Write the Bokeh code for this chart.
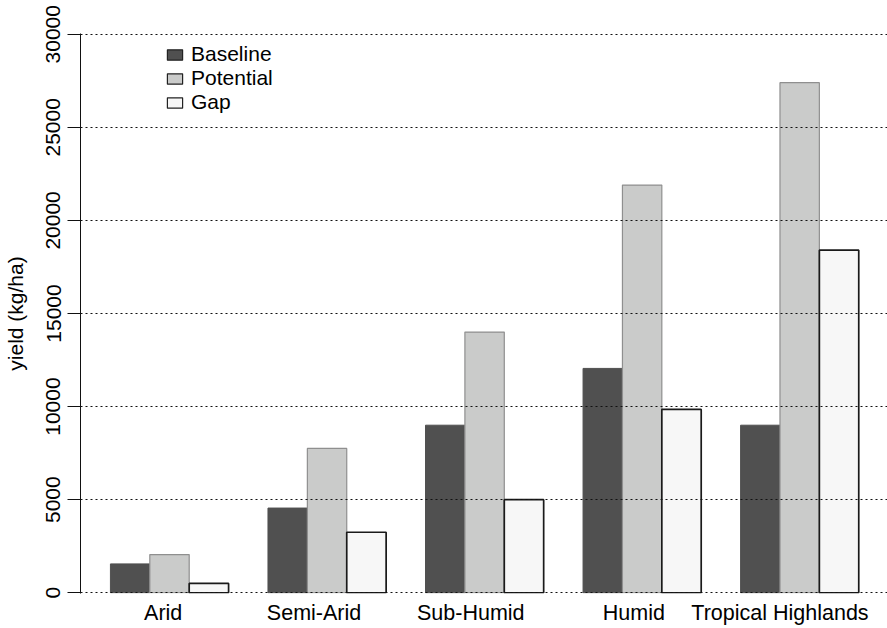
import numpy as np
from bokeh.plotting import figure
from bokeh.models import Range1d, FixedTicker, Legend, LegendItem
from bokeh.embed import file_html
from bokeh.resources import INLINE

# ---- data ----
regions = ["Arid", "Semi-Arid", "Sub-Humid", "Humid", "Tropical Highlands"]
baseline = [1550, 4550, 9000, 12050, 9000]
potential = [2050, 7750, 14000, 21900, 27400]
gap = [500, 3250, 5000, 9850, 18400]
series_names = ["Baseline", "Potential", "Gap"]
y_ticks = [0, 5000, 10000, 15000, 20000, 25000, 30000]
label_shift = [-0.16, -0.33, -0.35, -0.21, -0.50]   # label nudges (styling)

FONT = "Liberation Sans"
TXT = "#000000"

p = figure(width=887, height=627, output_backend="svg", toolbar_location=None,
           x_range=Range1d(0.24, 20.73), y_range=Range1d(-40, 30040),
           min_border_left=79, min_border_right=0, min_border_top=33,
           min_border_bottom=34)
p.outline_line_color = None
p.background_fill_color = "white"
p.border_fill_color = "white"

fills = ["#505050", "#cacbca", "#f7f7f7"]
lines = ["#505050", "#8f8f8f", "#1a1a1a"]
lwidths = [1, 1.2, 1.7]
values = [baseline, potential, gap]

n = len(regions)
for j in range(3):
    xs = [1 + 4 * i + j + 0.5 for i in range(n)]
    p.vbar(x=xs, top=values[j], bottom=0, width=1,
           fill_color=fills[j], line_color=lines[j], line_width=lwidths[j])

# legend proxies (boxes with dark borders), no visible data
proxies = []
for j in range(3):
    r = p.vbar(x=np.array([np.nan]), top=np.array([np.nan]), width=1,
               fill_color=fills[j], line_color="#222222", line_width=1.2)
    proxies.append(r)

legend = Legend(items=[LegendItem(label=series_names[j], renderers=[proxies[j]])
                       for j in range(3)],
                location=(85, 479), glyph_width=19, glyph_height=13,
                label_standoff=7, spacing=-5, padding=0, margin=0,
                border_line_color=None, background_fill_alpha=0,
                label_text_font=FONT, label_text_font_size="21px",
                label_text_color=TXT)
p.add_layout(legend)

# grid
p.xgrid.visible = False
p.ygrid.ticker = FixedTicker(ticks=y_ticks)
p.ygrid.grid_line_color = "#111111"
p.ygrid.grid_line_dash = "2 3"
p.ygrid.grid_line_width = 1
p.ygrid.level = "overlay"

# y axis
p.yaxis.ticker = FixedTicker(ticks=y_ticks)
p.yaxis.axis_label = "yield (kg/ha)"
p.yaxis.axis_label_text_font = FONT
p.yaxis.axis_label_text_font_size = "21px"
p.yaxis.axis_label_text_font_style = "normal"
p.yaxis.axis_label_text_color = TXT
p.yaxis.axis_label_standoff = 17
p.yaxis.major_label_text_font = FONT
p.yaxis.major_label_text_font_size = "21px"
p.yaxis.major_label_text_color = TXT
p.yaxis.major_label_orientation = "vertical"
p.yaxis.major_label_standoff = 7
p.yaxis.major_tick_out = 13
p.yaxis.major_tick_in = 0
p.yaxis.minor_tick_line_color = None
p.yaxis.axis_line_color = "#111111"
p.yaxis.major_tick_line_color = "#111111"

# x axis
label_x = [1 + 4 * i + 1.5 + label_shift[i] for i in range(n)]
p.xaxis.ticker = FixedTicker(ticks=label_x)
p.xaxis.major_label_overrides = {label_x[i]: regions[i] for i in range(n)}
p.xaxis.major_label_text_font = FONT
p.xaxis.major_label_text_font_size = "21.5px"
p.xaxis.major_label_text_color = TXT
p.xaxis.major_label_standoff = 7
p.xaxis.major_tick_out = 0
p.xaxis.major_tick_in = 0
p.xaxis.major_tick_line_color = None
p.xaxis.minor_tick_line_color = None
p.xaxis.axis_line_color = None

open("out.html", "w").write(file_html(p, INLINE))
